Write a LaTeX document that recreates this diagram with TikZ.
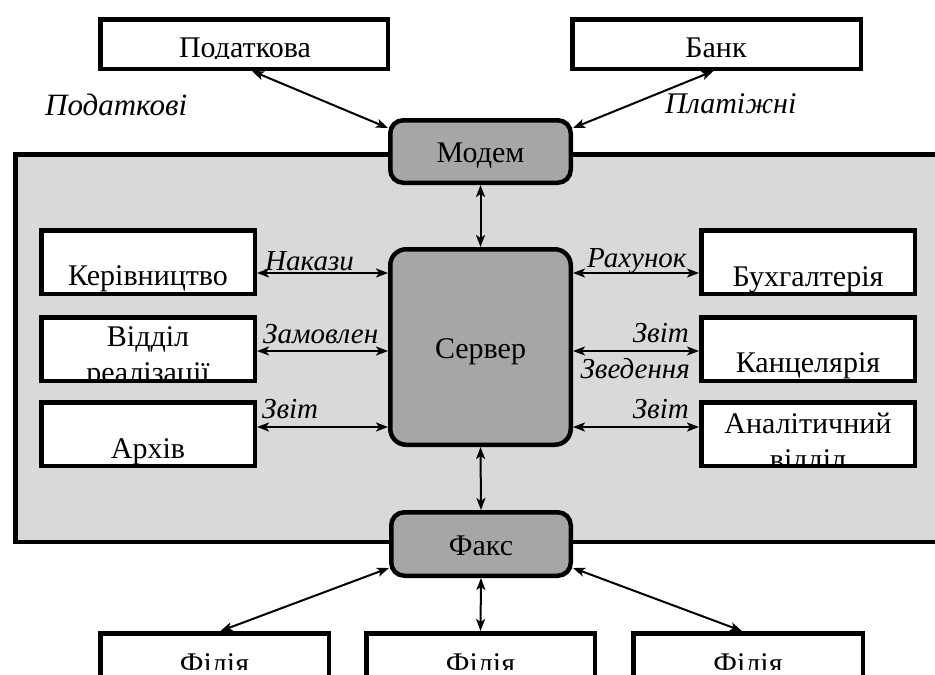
\documentclass[tikz,border=0pt]{standalone}
\usepackage{fontspec}
\setmainfont{Liberation Serif}
\usetikzlibrary{arrows.meta}
\definecolor{biggray}{HTML}{D9D9D9}
\definecolor{boxgray}{HTML}{A6A6A6}
\begin{document}
\begin{tikzpicture}[x=1pt,y=-1pt,
  txt/.style={font=\fontsize{30}{36}\selectfont, inner sep=0pt, anchor=base, align=center},
  lbl/.style={font=\fontsize{29}{35}\selectfont\itshape, inner sep=0pt},
  wbox/.style={draw, line width=4.5pt, fill=white, rectangle, inner sep=0pt},
  gbox/.style={draw, line width=4.5pt, fill=boxgray, rounded corners=13pt, rectangle, inner sep=0pt},
  arr/.style={line width=2pt, {Stealth[length=12pt,width=9pt,inset=3pt]}-{Stealth[length=12pt,width=9pt,inset=3pt]}}
]
\clip (0,0) rectangle (935,675);
\fill[white] (0,0) rectangle (935,675);

% office area
\draw[line width=4.5pt, fill=biggray] (15.25,154.25) rectangle (960,541.75);

% white boxes
\node[wbox, minimum width=287.5pt, minimum height=49.5pt] (podat) at (244,44) {};
\node[wbox, minimum width=288.5pt, minimum height=49.5pt] (bank) at (716.5,44) {};
\node[wbox, minimum width=213.5pt, minimum height=63.5pt] (kerivn) at (148,262) {};
\node[wbox, minimum width=213.5pt, minimum height=63.5pt] (viddil) at (148,349) {};
\node[wbox, minimum width=213.5pt, minimum height=63.5pt] (arkhiv) at (148,434) {};
\node[wbox, minimum width=213.5pt, minimum height=63.5pt] (bukh) at (808,262) {};
\node[wbox, minimum width=213.5pt, minimum height=63.5pt] (kants) at (808,349) {};
\node[wbox, minimum width=213.5pt, minimum height=63.5pt] (anal) at (808,434) {};
\node[wbox, minimum width=228.5pt, minimum height=80pt] (fil1) at (214.5,673.25) {};
\node[wbox, minimum width=228.5pt, minimum height=80pt] (fil2) at (480.5,673.25) {};
\node[wbox, minimum width=229.5pt, minimum height=80pt] (fil3) at (748,673.25) {};

% gray boxes
\node[gbox, minimum width=180.5pt, minimum height=62.5pt] (modem) at (480.5,151.5) {};
\node[gbox, rounded corners=16pt, minimum width=180.5pt, minimum height=195.5pt] (server) at (480.5,347) {};
\node[gbox, minimum width=179.5pt, minimum height=63.5pt] (fax) at (481,544) {};

% texts in boxes (clipped as in the reference)
\begin{scope}\clip (100,20) rectangle (388,58);
  \node[txt] (t-podat) at (245,57) {Податкова};\end{scope}
\begin{scope}\clip (572,20) rectangle (861,58);
  \node[txt] (t-bank) at (716,57) {Банк};\end{scope}
\begin{scope}\clip (43.5,232.5) rectangle (252.5,291.5);
  \node[txt] (t-kerivn) at (148,285) {Керівництво};\end{scope}
\begin{scope}\clip (43.5,319.5) rectangle (252.5,378.5);
  \node[txt] (t-viddil) at (148,382) {Відділ\\реалізації};\end{scope}
\begin{scope}\clip (43.5,404.5) rectangle (252.5,463.5);
  \node[txt] (t-arkhiv) at (148,458) {Архів};\end{scope}
\begin{scope}\clip (703.5,232.5) rectangle (912.5,291.5);
  \node[txt] (t-bukh) at (808,286) {Бухгалтерія};\end{scope}
\begin{scope}\clip (703.5,319.5) rectangle (912.5,378.5);
  \node[txt] (t-kants) at (808,372) {Канцелярія};\end{scope}
\begin{scope}\clip (703.5,404.5) rectangle (912.5,463.5);
  \node[txt] (t-anal) at (808,469) {Аналітичний\\відділ};\end{scope}
\begin{scope}\clip (100,635) rectangle (329,669);
  \node[txt] (t-fil1) at (214.5,673) {Філія};\end{scope}
\begin{scope}\clip (366,635) rectangle (595,669);
  \node[txt] (t-fil2) at (480.5,673) {Філія};\end{scope}
\begin{scope}\clip (633,635) rectangle (863,669);
  \node[txt] (t-fil3) at (748,673) {Філія};\end{scope}

\node[txt] (t-modem) at (480.5,162) {Модем};
\node[txt] (t-server) at (480.5,358) {Сервер};
\node[txt] (t-fax) at (481,555) {Факс};

% connectors
\draw[arr] ([xshift=8pt]podat.south) -- ([yshift=-10pt]modem.north west);
\draw[arr] ([xshift=-3pt]bank.south) -- ([yshift=-10pt]modem.north east);
\draw[arr] (modem.south) -- (server.north);
\draw[arr] (server.south) -- (fax.north);
\draw[arr] (fax.south) -- (fil2.north);
\draw[arr] ([yshift=10pt]fax.south west) -- ([xshift=6pt]fil1.north);
\draw[arr] ([yshift=10pt]fax.south east) -- ([xshift=-6pt]fil3.north);

\draw[arr] ([yshift=-11pt]kerivn.east) -- ([yshift=-11pt]kerivn.east -| server.west);
\draw[arr] ([yshift=-2pt]viddil.east) -- ([yshift=-2pt]viddil.east -| server.west);
\draw[arr] ([yshift=7pt]arkhiv.east) -- ([yshift=7pt]arkhiv.east -| server.west);
\draw[arr] ([yshift=-11pt]bukh.west) -- ([yshift=-11pt]bukh.west -| server.east);
\draw[arr] ([yshift=-2pt]kants.west) -- ([yshift=-2pt]kants.west -| server.east);
\draw[arr] ([yshift=7pt]anal.west) -- ([yshift=7pt]anal.west -| server.east);

% italic labels
\node[lbl, font=\fontsize{31}{36}\selectfont\itshape, anchor=base west] (l-podat) at (45,115) {Податкові};
\node[lbl, font=\fontsize{30}{36}\selectfont\itshape, anchor=base west] (l-plat) at (665,113) {Платіжні};
\node[lbl, anchor=base west] (l-nakazy) at (265,270) {Накази};
\node[lbl, anchor=base west] (l-zamov) at (263,343) {Замовлен};
\node[lbl, anchor=base west] (l-zvit1) at (262,418) {Звіт};
\node[lbl, anchor=base west] (l-rakh) at (587,267) {Рахунок};
\node[lbl, anchor=base east] (l-zvit2) at (689,342) {Звіт};
\node[lbl, anchor=base east] (l-zved) at (690,378) {Зведення};
\node[lbl, anchor=base east] (l-zvit3) at (689,418) {Звіт};
\end{tikzpicture}
\end{document}
